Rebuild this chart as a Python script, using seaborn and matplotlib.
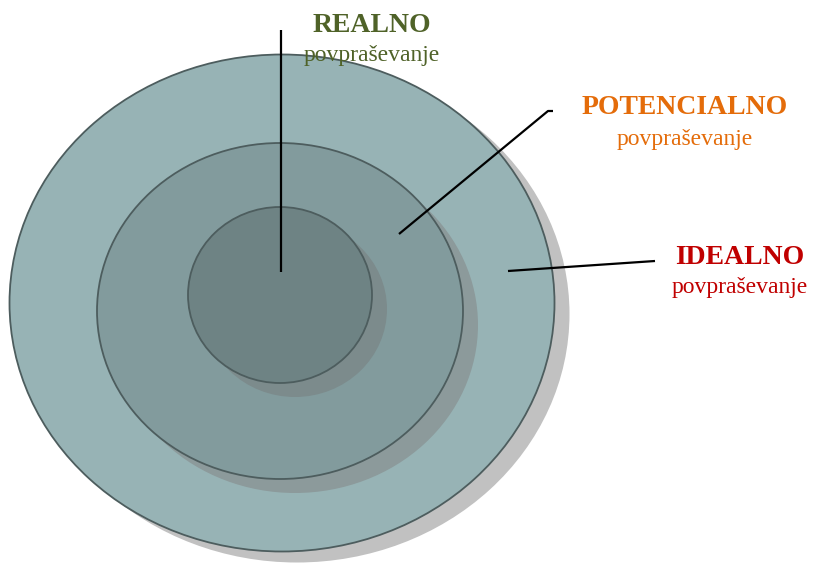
import matplotlib
matplotlib.use("Agg")
import matplotlib.pyplot as plt
from matplotlib.patches import Ellipse
import seaborn as sns

# ---- data ----
levels = ["IDEALNO", "POTENCIALNO", "REALNO"]
sublabel = "povpraševanje"
fill_colors = ["#97b3b5", "#829b9d", "#6e8384"]
shadow_colors = ["#c1c1c1", "#8c9a9b", "#7c8b8c"]
text_colors = ["#c00000", "#e46c0a", "#4f6228"]
# ellipse geometry in pixel space: centre x, centre y, width, height
ell_cx = [282, 280, 280]
ell_cy = [303, 311, 295]
ell_w = [545, 366, 184]
ell_h = [497, 336, 176]
shadow_dx = [15, 15, 15]
shadow_dy = [11, 14, 14]
# label positions (centre x, top line y)
label_x = [740, 685, 372]
label_y = [257, 108, 25]
# leader lines
lead_x = [[508, 655], [399, 548, 553], [281, 281]]
lead_y = [[271, 261], [234, 111, 111], [272, 30]]

sns.set_theme(style="white")
plt.rcParams['font.family'] = ['Liberation Serif', 'DejaVu Serif']

fig = plt.figure(figsize=(8.13, 5.64), dpi=100)
ax = fig.add_axes([0, 0, 1, 1])
ax.set_xlim(0, 813)
ax.set_ylim(564, 0)
ax.axis("off")

for i in range(3):
    ax.add_patch(Ellipse((ell_cx[i] + shadow_dx[i], ell_cy[i] + shadow_dy[i]),
                         ell_w[i], ell_h[i], facecolor=shadow_colors[i],
                         edgecolor="none", zorder=2 * i + 1))
    ax.add_patch(Ellipse((ell_cx[i], ell_cy[i]), ell_w[i], ell_h[i],
                         facecolor=fill_colors[i], edgecolor="#4d5d5e",
                         linewidth=1.3, zorder=2 * i + 2))

for i in range(3):
    ax.plot(lead_x[i], lead_y[i], color="black", linewidth=1.6, zorder=10,
            solid_capstyle="butt")
    ax.text(label_x[i], label_y[i], levels[i], color=text_colors[i],
            fontsize=20, fontweight="bold", ha="center", va="center", zorder=11)
    ax.text(label_x[i], label_y[i] + 31, sublabel, color=text_colors[i],
            fontsize=17, ha="center", va="center", zorder=11)

fig.savefig("out.png", dpi=100)
